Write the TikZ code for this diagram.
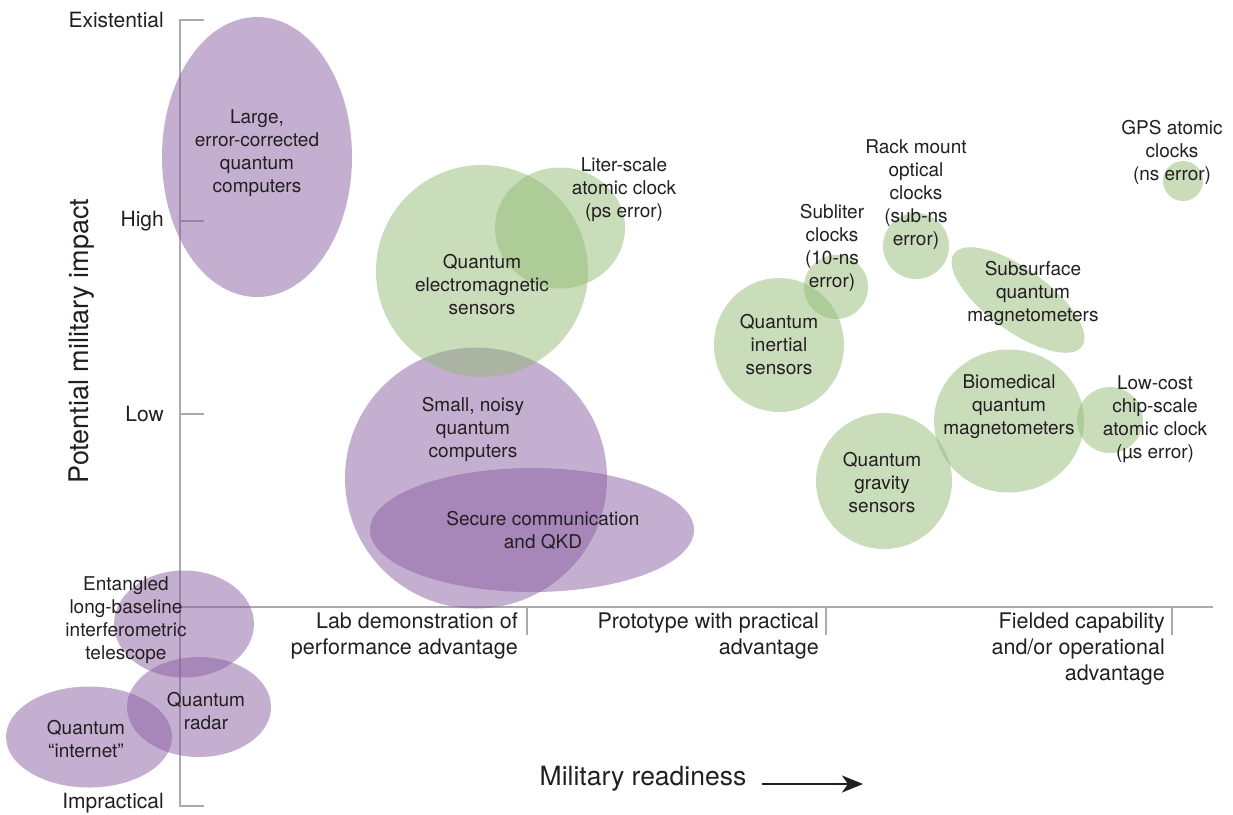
\documentclass[tikz,border=0pt]{standalone}
\usepackage{fontspec}
\setmainfont{TeX Gyre Heros}
\usetikzlibrary{shapes.geometric,positioning,arrows.meta}
\definecolor{qpurple}{HTML}{8A5FA3}
\definecolor{qgreen}{HTML}{93BB76}
\definecolor{axisgray}{HTML}{ABABAB}
\definecolor{ink}{HTML}{231F20}

\tikzset{
  blob/.style={ellipse, inner sep=0pt, fill opacity=0.5},
  pblob/.style={blob, fill=qpurple},
  gblob/.style={blob, fill=qgreen},
  lbl/.style={align=center, inner sep=0pt, text=ink, font=\fontsize{19}{23}\selectfont},
  ylbl/.style={anchor=east, inner sep=0pt, text=ink, font=\fontsize{21}{24}\selectfont},
  xlbl/.style={anchor=north east, align=right, inner sep=0pt, text=ink, font=\fontsize{21.5}{26}\selectfont},
  axis/.style={draw=axisgray, line width=2.6pt},
}

\begin{document}
\begin{tikzpicture}[x=1pt,y=-1pt]
  \useasboundingbox (0,0) rectangle (1233,814);

  % axes
  \coordinate (O) at (180,607);
  \coordinate (top) at (180,20);
  \coordinate (bot) at (180,806);
  \coordinate (xend) at (1213,607);
  \draw[axis] ([xshift=24pt]top) -- (top) -- (bot) -- ([xshift=24pt]bot);
  \draw[axis] (180,221) -- (204,221);
  \draw[axis] (180,414) -- (204,414);
  \draw[axis] (O) -- (xend);
  \foreach \x in {527,826,1172}
    \draw[axis] (\x,607) -- (\x,635);

  \node[ylbl] (ext) at (164,20) {Existential};
  \node[ylbl] (high) at (164,221) {High};
  \node[ylbl] (low) at (164,414) {Low};
  \node[ylbl] (impr) at (164,803) {Impractical};
  \node[rotate=90, text=ink, font=\fontsize{27}{30}\selectfont] (ylab) at (82,341) {Potential military impact};

  \node[xlbl] (lab) at (518,613) {Lab demonstration of\\performance advantage};
  \node[xlbl] (proto) at (819,613) {Prototype with practical\\advantage};
  \node[xlbl] (field) at (1165,613) {Fielded capability\\and/or operational\\advantage};

  \node[text=ink, font=\fontsize{26.5}{30}\selectfont] (xlab) at (643,779) {Military readiness};
  \coordinate (arr0) at ([xshift=12pt]xlab.east);
  \coordinate (arr) at (863,784);
  \draw[-{Stealth[length=21pt,width=17pt,inset=6pt]}, line width=2.2pt, ink] (arr -| arr0) -- (arr);

  % purple: computing and communication
  \node[pblob, minimum width=190, minimum height=280] (LQC) at (257,157) {};
  \node[pblob, minimum width=262, minimum height=261] (SQC) at (476,478) {};
  \node[pblob, minimum width=324, minimum height=124] (QKD) at (532,530) {};
  \node[pblob, minimum width=140, minimum height=107] (ELT) at (184,624) {};
  \node[pblob, minimum width=144, minimum height=100] (QR) at (199,707) {};
  \node[pblob, minimum width=166, minimum height=101] (QI) at (89,737) {};

  % green: sensing and timing
  \node[gblob, minimum width=212, minimum height=212] (EMS) at (482,271) {};
  \node[gblob, minimum width=130, minimum height=121] (LSC) at (560,228) {};
  \node[gblob, minimum width=64, minimum height=64] (SLC) at (836,287) {};
  \node[gblob, minimum width=66, minimum height=66] (ROC) at (916,246) {};
  \node[gblob, minimum width=40, minimum height=40] (GPS) at (1183,181) {};
  \node[gblob, minimum width=130, minimum height=134] (QIS) at (779,345) {};
  \node[gblob, minimum width=158, minimum height=62, rotate=-36] (SQM) at (1018,300) {};
  \node[gblob, minimum width=150, minimum height=143] (BQM) at (1009,421) {};
  \node[gblob, minimum width=66, minimum height=66] (CSC) at (1110,420) {};
  \node[gblob, minimum width=136, minimum height=136] (QGS) at (884,481) {};

  % labels
  \node[lbl] (tLQC) at (257,153) {Large,\\error-corrected\\quantum\\computers};
  \node[lbl] (tSQC) at (473,429) {Small, noisy\\quantum\\computers};
  \node[lbl] (tQKD) at (543,530) {Secure communication\\and QKD};
  \node[lbl] (tELT) at (126,620) {Entangled\\long-baseline\\interferometric\\telescope};
  \node[lbl] (tQR) at (206,711) {Quantum\\radar};
  \node[lbl] (tQI) at (86,739) {Quantum\\“internet”};
  \node[lbl] (tEMS) at (482,285) {Quantum\\electromagnetic\\sensors};
  \node[lbl] (tLSC) at (624,190) {Liter-scale\\atomic clock\\(ps error)};
  \node[lbl] (tSLC) at (832,248) {Subliter\\clocks\\(10-ns\\error)};
  \node[lbl] (tROC) at (916,195) {Rack mount\\optical\\clocks\\(sub-ns\\error)};
  \node[lbl] (tGPS) at (1172,152) {GPS atomic\\clocks\\(ns error)};
  \node[lbl] (tQIS) at (779,345) {Quantum\\inertial\\sensors};
  \node[lbl] (tSQM) at (1033,293) {Subsurface\\quantum\\magnetometers};
  \node[lbl] (tBQM) at (1009,407) {Biomedical\\quantum\\magnetometers};
  \node[lbl] (tCSC) at (1155,419) {Low-cost\\chip-scale\\atomic clock\\(µs error)};
  \node[lbl] (tQGS) at (882,483) {Quantum\\gravity\\sensors};
\end{tikzpicture}
\end{document}
